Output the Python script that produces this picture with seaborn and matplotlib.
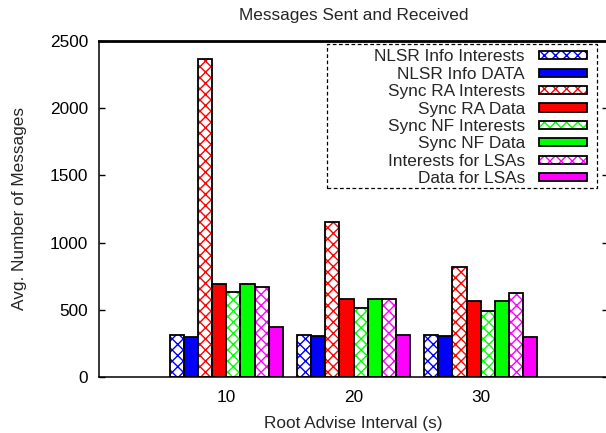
import numpy as np
import pandas as pd
import matplotlib
matplotlib.use('Agg')
import matplotlib.pyplot as plt
from matplotlib.patches import Patch, Rectangle
from matplotlib.legend_handler import HandlerTuple
import seaborn as sns

# data
intervals = ['10', '20', '30']
series = ['NLSR Info Interests', 'NLSR Info DATA', 'Sync RA Interests', 'Sync RA Data',
          'Sync NF Interests', 'Sync NF Data', 'Interests for LSAs', 'Data for LSAs']
nlsr_info_interests = [310, 312, 312]
nlsr_info_data = [300, 305, 308]
sync_ra_interests = [2366, 1156, 816]
sync_ra_data = [690, 583, 565]
sync_nf_interests = [630, 516, 491]
sync_nf_data = [690, 583, 565]
lsa_interests = [670, 581, 622]
lsa_data = [374, 310, 295]

colors = ['#0000ff', '#0000ff', '#ff0000', '#ff0000',
          '#00ff00', '#00ff00', '#ff00ff', '#ff00ff']
hatched = [True, False, True, False, True, False, True, False]

values = [nlsr_info_interests, nlsr_info_data, sync_ra_interests, sync_ra_data,
          sync_nf_interests, sync_nf_data, lsa_interests, lsa_data]
rows = []
for name, vals in zip(series, values):
    for iv, v in zip(intervals, vals):
        rows.append({'interval': iv, 'series': name, 'messages': v})
df = pd.DataFrame(rows)

sns.set_style('white')
plt.rcParams['font.family'] = ['Liberation Sans', 'DejaVu Sans']
plt.rcParams['hatch.linewidth'] = 1.0

FS = 12.4
HATCH = 'xxx'
fig = plt.figure(figsize=(6.06, 4.33), dpi=100)
ax = fig.add_axes([99 / 606, 56 / 433, 509 / 606, 336 / 433])

sns.barplot(data=df, x='interval', y='messages', hue='series', order=intervals,
            hue_order=series, palette=dict(zip(series, colors)), width=8 / 9,
            saturation=1, edgecolor='black', linewidth=1.3, errorbar=None,
            legend=False, ax=ax)

# hatched series: white fill, coloured cross hatch, black outline
for i, cont in enumerate(ax.containers):
    if not hatched[i]:
        continue
    for bar in cont:
        bar.set_facecolor('white')
        bar.set_edgecolor(colors[i])
        bar.set_hatch(HATCH)
        bar.set_linewidth(0)
        ax.add_patch(Rectangle(bar.get_xy(), bar.get_width(), bar.get_height(),
                               fill=False, edgecolor='black', linewidth=1.3))

ax.set_xlim(-1, 3)
ax.set_ylim(0, 2500)
ax.set_yticks(range(0, 2501, 500))

for s in ['left', 'bottom', 'right']:
    ax.spines[s].set_linewidth(1.1)
    ax.spines[s].set_color('black')
ax.spines['top'].set_linewidth(2)
ax.spines['top'].set_color('black')

ax.tick_params(axis='y', direction='in', length=4, width=1, left=True, right=True,
               pad=8, labelsize=FS, colors='black')
ax.tick_params(axis='x', length=0, pad=9, labelsize=FS, colors='black')

ax.set_title('Messages Sent and Received', fontsize=FS, pad=15)
ax.set_xlabel('Root Advise Interval (s)', fontsize=FS)
ax.set_ylabel('Avg. Number of Messages', fontsize=FS)
ax.xaxis.set_label_coords(0.5, -0.116)
ax.yaxis.set_label_coords(-0.142, 0.5)

# legend: label left of swatch, dashed box
handles = []
for c, h in zip(colors, hatched):
    if h:
        handles.append((Patch(facecolor='white', edgecolor=c, hatch=HATCH, linewidth=0),
                        Patch(fill=False, edgecolor='black', linewidth=1.3)))
    else:
        handles.append(Patch(facecolor=c, edgecolor='black', linewidth=1.3))
leg = ax.legend(handles, series, loc='upper right', bbox_to_anchor=(0.9587, 0.975),
                borderaxespad=0, borderpad=0, frameon=False, markerfirst=False,
                handlelength=2.8, handleheight=0.35, handletextpad=0.8,
                labelspacing=0.14, fontsize=FS,
                handler_map={tuple: HandlerTuple(ndivide=1, pad=0)})
ax.add_patch(Rectangle((0.448, 0.5625), 0.53, 0.4285, transform=ax.transAxes,
                       fill=False, linestyle=(0, (3, 2)), linewidth=0.9,
                       edgecolor='black', zorder=5))

fig.savefig('out.png', dpi=100, facecolor='white')
